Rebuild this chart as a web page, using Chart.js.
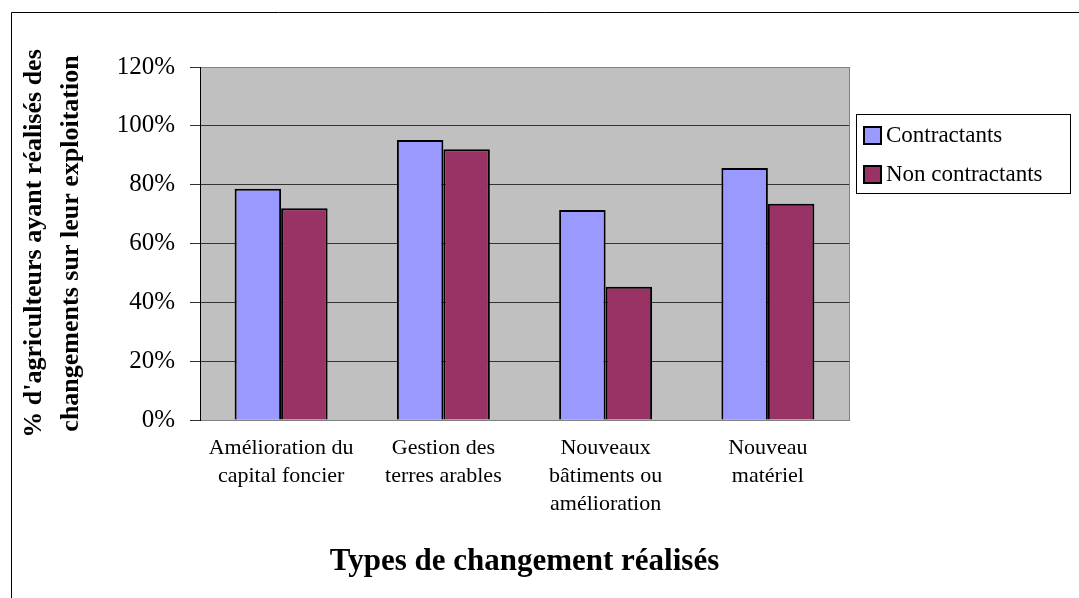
<!DOCTYPE html>
<html>
<head>
<meta charset="utf-8">
<script src="https://cdn.jsdelivr.net/npm/chart.js@4/dist/chart.umd.min.js"></script>
<style>
    html, body { margin: 0; padding: 0; background: #fff; }
    #wrap { width: 1079px; height: 598px; }
</style>
</head>
<body>
<div id="wrap"><canvas id="chart" width="1079" height="598"></canvas></div>
<script>
const categories = [
    ['Amélioration du', 'capital foncier'],
    ['Gestion des', 'terres arables'],
    ['Nouveaux', 'bâtiments ou', 'amélioration'],
    ['Nouveau', 'matériel']
]
const contractants = [78.6, 95.2, 71.4, 85.7]
const non_contractants = [72, 92, 45.3, 73.5]
const series_names = ['Contractants', 'Non contractants']
const series_colors = ['#9999FF', '#993366']

const serif = "'Liberation Serif', 'Times New Roman', serif"

// grey plot area, outer frame, right edge of the plot and the boxed legend
const excel_frame = {
    id: 'excel_frame',
    beforeDraw(chart) {
        const { ctx, chartArea: a } = chart
        ctx.save()
        ctx.fillStyle = '#C0C0C0'
        ctx.fillRect(a.left, a.top, a.right - a.left, a.bottom - a.top)
        ctx.restore()
    },
    afterDraw(chart) {
        const { ctx, chartArea: a } = chart
        ctx.save()
        ctx.strokeStyle = '#808080'
        ctx.lineWidth = 1
        ctx.beginPath()
        ctx.moveTo(a.right + 0.5, a.top)
        ctx.lineTo(a.right + 0.5, a.bottom)
        ctx.stroke()

        ctx.strokeStyle = '#000'
        ctx.beginPath()
        ctx.moveTo(chart.width, 12.5)
        ctx.lineTo(11.5, 12.5)
        ctx.lineTo(11.5, chart.height)
        ctx.stroke()

        // legend box
        const lx = 856.5, ly = 114.5, lw = 214, lh = 79
        ctx.fillStyle = '#fff'
        ctx.fillRect(lx, ly, lw, lh)
        ctx.strokeRect(lx, ly, lw, lh)
        ctx.font = '23px ' + serif
        ctx.textBaseline = 'middle'
        chart.data.datasets.forEach((ds, i) => {
            const y = 135 + i * 39
            ctx.fillStyle = ds.backgroundColor
            ctx.fillRect(864, y - 8, 17, 17)
            ctx.lineWidth = 2
            ctx.strokeStyle = '#000'
            ctx.strokeRect(864, y - 8, 17, 17)
            ctx.fillStyle = '#000'
            ctx.fillText(ds.label, 886, y + 1)
        })
        ctx.restore()
    }
}

new Chart(document.getElementById('chart'), {
    type: 'bar',
    data: {
        labels: categories,
        datasets: [
            { label: series_names[0], data: contractants, backgroundColor: series_colors[0] },
            { label: series_names[1], data: non_contractants, backgroundColor: series_colors[1] }
        ]
    },
    options: {
        responsive: false,
        animation: false,
        devicePixelRatio: 1,
        layout: { padding: { left: 10, top: 67, right: 230, bottom: 0 } },
        datasets: {
            bar: {
                borderColor: '#000',
                borderWidth: 2,
                categoryPercentage: 0.573,
                barPercentage: 1
            }
        },
        plugins: {
            legend: { display: false },
            tooltip: { enabled: false }
        },
        scales: {
            x: {
                afterFit: s => { s.height = 178 },
                grid: { display: false },
                border: { color: '#808080', width: 1 },
                ticks: {
                    color: '#000',
                    padding: 6,
                    maxRotation: 0,
                    autoSkip: false,
                    font: { family: serif, size: 22, lineHeight: 1.27 }
                },
                title: {
                    display: true,
                    text: 'Types de changement réalisés',
                    color: '#000',
                    font: { family: serif, size: 31, weight: 'bold', lineHeight: 1.2 },
                    padding: { top: 0, bottom: 17 }
                }
            },
            y: {
                min: 0,
                max: 120,
                afterFit: s => { s.width = 190 },
                grid: {
                    color: ctx => ctx.tick && ctx.tick.value === 120 ? '#808080' : '#333',
                    tickColor: '#333',
                    tickLength: 10
                },
                border: { color: '#000', width: 1 },
                ticks: {
                    stepSize: 20,
                    color: '#000',
                    padding: 15,
                    font: { family: serif, size: 25 },
                    callback: v => v + '%'
                },
                title: {
                    display: true,
                    text: ["% d'agriculteurs ayant réalisés des", 'changements sur leur exploitation'],
                    color: '#000',
                    font: { family: serif, size: 26, weight: 'bold', lineHeight: 1.42 },
                    padding: { top: 6, bottom: 0 }
                }
            }
        }
    },
    plugins: [excel_frame]
})
</script>
</body>
</html>
